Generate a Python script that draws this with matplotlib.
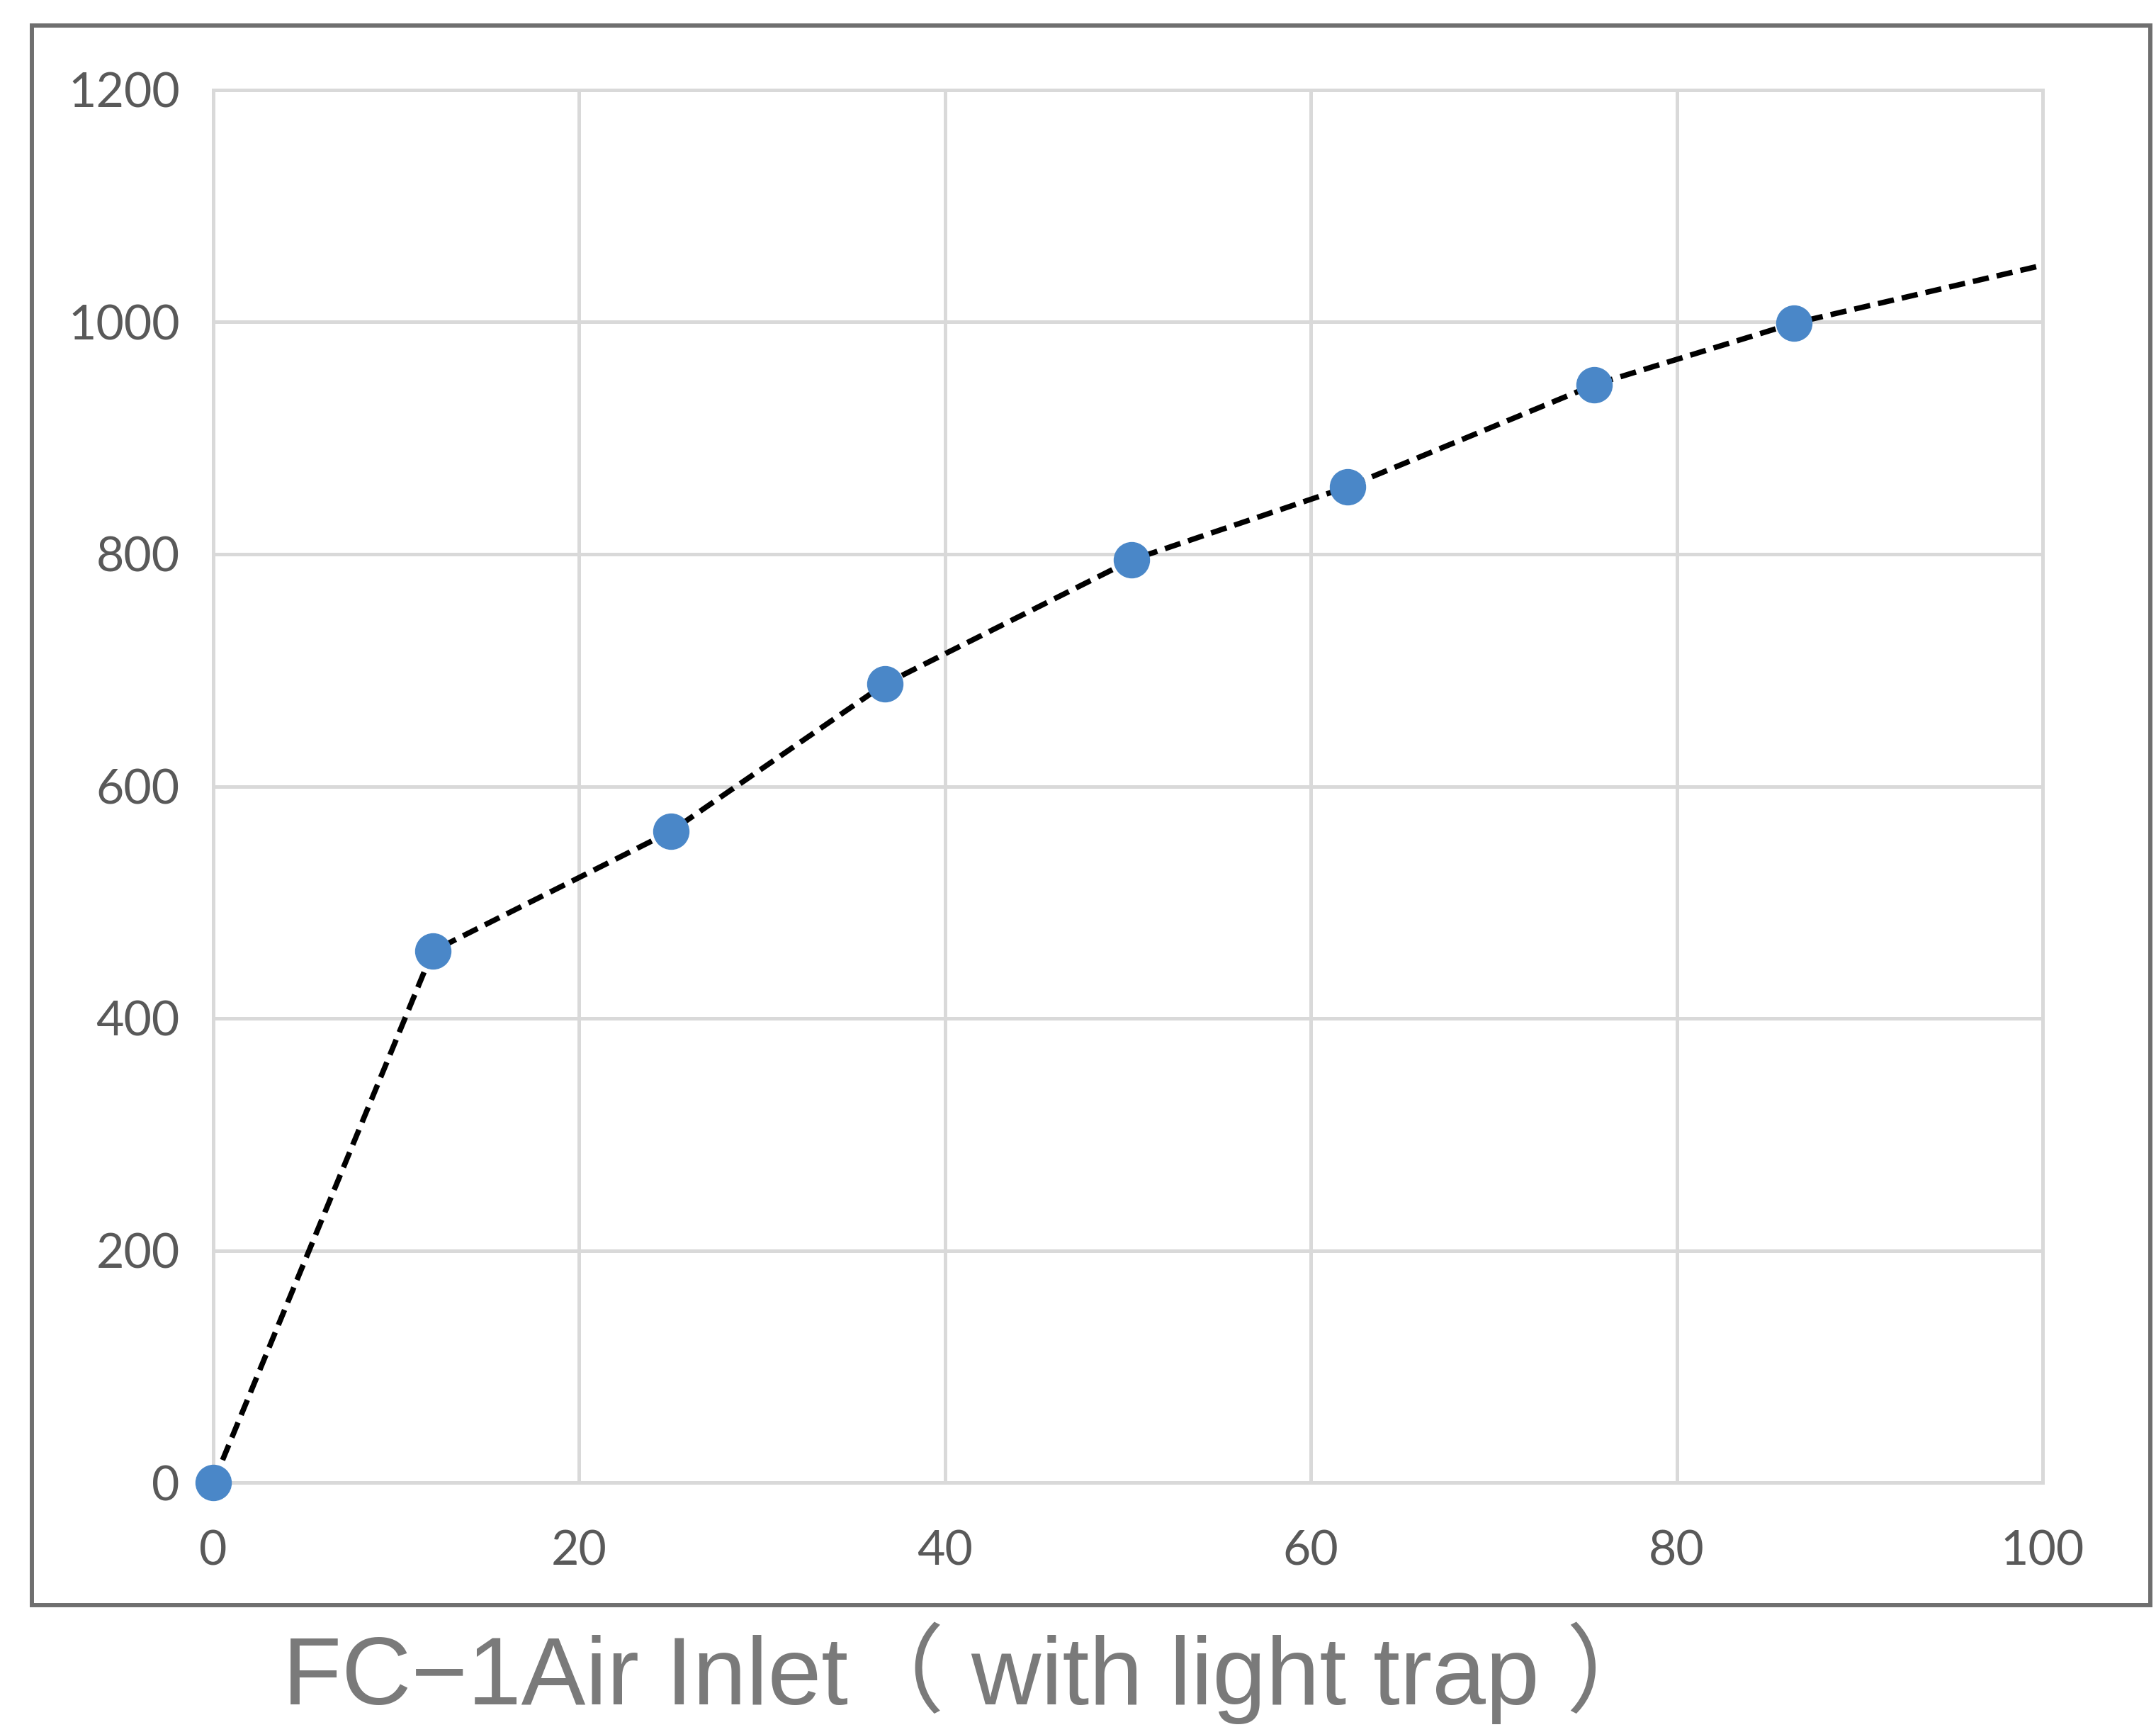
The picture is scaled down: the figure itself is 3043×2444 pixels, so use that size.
import matplotlib
matplotlib.use("Agg")
import matplotlib.pyplot as plt
from matplotlib.patches import Rectangle

# ---- data ----
x_points = [0, 12, 25, 36.7, 50.2, 62, 75.5, 86.4]
y_points = [0, 458, 561, 688, 795, 858, 946, 999]
# dashed line continues past the last marker to the right edge
line_x = x_points + [100]
line_y = y_points + [1049]
x_ticks = [0, 20, 40, 60, 80, 100]
y_ticks = [0, 200, 400, 600, 800, 1000, 1200]
title_text = "FC\u22121Air Inlet\uff08 with light trap \uff09"

W, H = 3043, 2444
fig = plt.figure(figsize=(W / 100, H / 100), dpi=100)
fig.patch.set_facecolor("white")

ax = fig.add_axes([301 / W, 1 - 2092 / H, (2883 - 301) / W, (2092 - 127) / H])
ax.set_xlim(0, 100)
ax.set_ylim(0, 1200)
ax.set_xticks(x_ticks)
ax.set_yticks(y_ticks)

grid_c = "#d9d9d9"
ax.grid(True, color=grid_c, linewidth=3.6)
ax.set_axisbelow(True)
for s in ax.spines.values():
    s.set_color(grid_c)
    s.set_linewidth(3.6)

ax.tick_params(length=0, labelsize=49, labelcolor="#595959")
ax.tick_params(axis="y", pad=34)
ax.tick_params(axis="x", pad=48)
for lab in ax.get_xticklabels() + ax.get_yticklabels():
    lab.set_family(["Lato", "DejaVu Sans"])

ax.plot(line_x, line_y, color="black", linewidth=5.5, linestyle=(0, (3, 1.5)),
        zorder=3, clip_on=False)
ax.plot(x_points, y_points, linestyle="none", marker="o", markersize=36,
        markerfacecolor="#4a87c8", markeredgecolor="#4a87c8", zorder=4,
        clip_on=False)

# outer frame
fig.patches.append(Rectangle((45 / W, 1 - 2265 / H), (3035 - 45) / W, (2265 - 36) / H,
                             transform=fig.transFigure, fill=False,
                             edgecolor="#6f6f6f", linewidth=4.3))

fig.text(1373 / W, 1 - 2405 / H, title_text, ha="center", va="baseline",
         fontsize=98, color="#7a7a7a",
         family=["Liberation Sans", "Noto Sans CJK SC"])

fig.savefig("out.png", dpi=100)
